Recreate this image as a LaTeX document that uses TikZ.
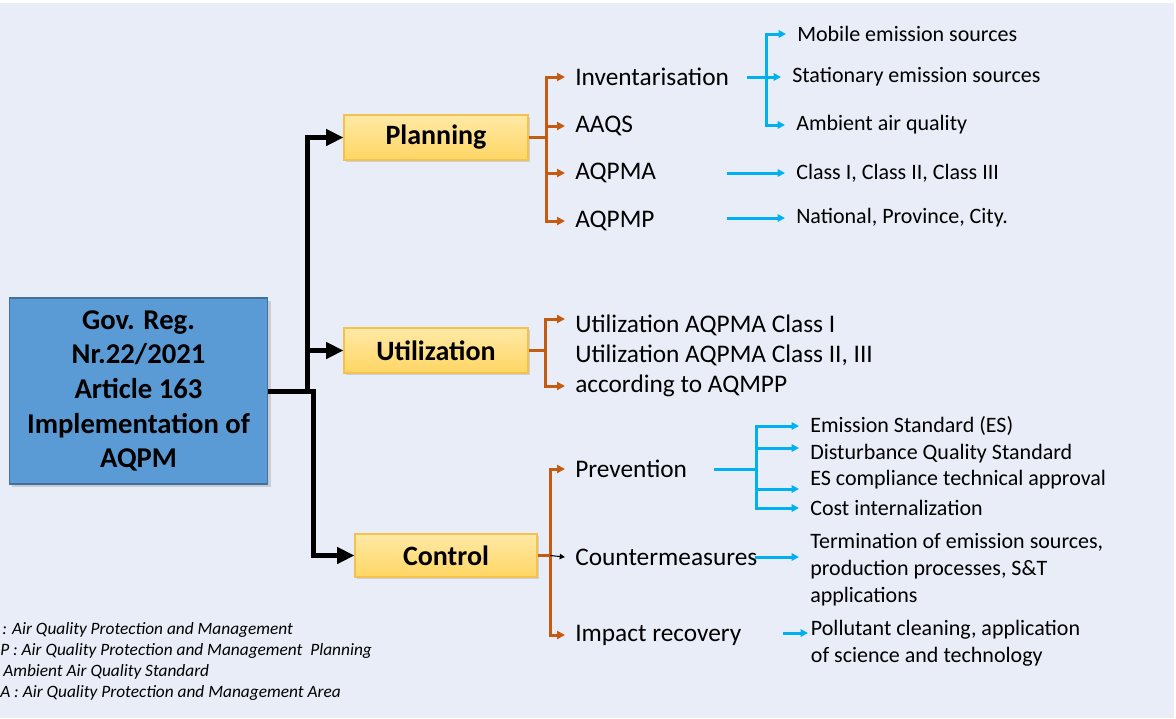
\documentclass[tikz,border=0pt]{standalone}
\usepackage{fontspec}
\setmainfont{Carlito}
\usepackage{xcolor}
\usepackage{tikz}
\usetikzlibrary{positioning, fit, arrows.meta, shadows}

\definecolor{bgblue}{HTML}{E9EDF7}
\definecolor{govblue}{HTML}{5B9BD5}
\definecolor{govedge}{HTML}{41719C}
\definecolor{boxtop}{HTML}{FFE9A6}
\definecolor{boxbot}{HTML}{FFD664}
\definecolor{boxedge}{HTML}{F2C14E}
\definecolor{brorange}{HTML}{C55A11}
\definecolor{brcyan}{HTML}{00B0F0}

\begin{document}
\begin{tikzpicture}[x=0.75pt, y=-0.75pt,
    govbox/.style={draw=govedge, fill=govblue, line width=0.8pt, minimum width=194pt, minimum height=139.5pt, align=center, font=\fontsize{21.5}{26}\selectfont\bfseries, drop shadow={shadow xshift=2pt, shadow yshift=-2pt, opacity=0.3}},
    stage/.style={draw=boxedge, top color=boxtop, bottom color=boxbot, line width=0.8pt, minimum width=138pt, minimum height=33.75pt, font=\fontsize{21}{25}\selectfont\bfseries, drop shadow={shadow xshift=1.5pt, shadow yshift=-1.5pt, opacity=0.25}},
    item/.style={anchor=west, inner xsep=7.5pt, inner ysep=0pt, font=\fontsize{19}{23}\selectfont},
    sub/.style={anchor=west, inner xsep=8.25pt, inner ysep=0pt, align=left, font=\fontsize{16.5}{20.25}\selectfont},
    note/.style={anchor=west, inner sep=0pt, font=\fontsize{13}{15.75}\selectfont\itshape},
    blk/.style={line width=3.75pt, -{Triangle[length=13pt,width=12pt]}},
    org/.style={draw=brorange, line width=2.25pt},
    oarr/.style={org, -{Triangle[length=6pt,width=6pt]}},
    cyn/.style={draw=brcyan, line width=2.25pt},
    carr/.style={cyn, -{Triangle[length=5.5pt,width=5.5pt]}},
    tarr/.style={line width=0.8pt, -{Triangle[length=4pt,width=4pt]}}
    ]

    \useasboundingbox (0,0) rectangle (1176,718);
    \fill[bgblue] (0,3) rectangle (1174,718);

    % main box and the three stages
    \node[govbox] (gov) at (138.5,391) {Gov. Reg.\\Nr.22/2021\\Article 163\\Implementation of\\AQPM};
    \node[stage] (plan) at (436,137.5) {Planning};
    \node[stage] (util) at (436,350.5) {Utilization};
    \node[stage, minimum width=136.5pt, minimum height=32.25pt] (ctrl) at (446,555.5) {Control};

    \coordinate (trunk) at (307,391);
    \coordinate (trunk2) at (313,391);
    \draw[blk] (gov.east) -- (trunk) |- (plan.west);
    \draw[blk] (trunk) |- (util.west);
    \draw[blk] (gov.east) -- (trunk2) |- (ctrl.west);

    % planning
    \foreach \name/\txt/\y in {inv/Inventarisation/77, aaqs/AAQS/126, aqpma/AQPMA/173, aqpmp/AQPMP/221}
        \node[item] (\name) at (565,\y) {\txt};
    \coordinate (pb) at (546,137.5);
    \draw[org] (plan.east) -- (pb);
    \foreach \name in {inv,aaqs,aqpma,aqpmp}
        \draw[oarr] (pb) |- (\name.west);

    \node[sub] (mob) at (786,34) {Mobile emission sources};
    \node[sub] (sta) at (781,77) {Stationary emission sources};
    \node[sub] (amb) at (785,125) {Ambient air quality};
    \node[sub] (cls) at (785,173) {Class I, Class II, Class III};
    \node[sub] (nat) at (785,218) {National, Province, City.};

    \coordinate (invo) at (747,77);
    \coordinate (ib) at (766,77);
    \draw[cyn] (invo) -- (ib);
    \draw[carr] (ib) |- (mob.west);
    \draw[carr] (ib) -- (sta.west);
    \draw[carr] (ib) |- (amb.west);
    \coordinate (aqo) at (727,173);
    \coordinate (apo) at (727,218);
    \draw[carr] (aqo) -- (cls.west);
    \draw[carr] (apo) -- (nat.west);

    % utilization
    \foreach \name/\txt/\y in {ut1/Utilization AQPMA Class I/325, ut2/{Utilization AQPMA Class II, III}/355.5, ut3/according to AQMPP/386}
        \node[item] (\name) at (565,\y) {\txt};
    \coordinate (ub) at (545,350.5);
    \draw[org] (util.east) -- (ub);
    \draw[oarr] (ub) |- ([yshift=4.5pt]ut1.west);
    \draw[oarr] (ub) |- (ut3.west);

    % control
    \node[item] (prev) at (565,469) {Prevention};
    \node[item] (cm) at (565,557) {Countermeasures};
    \node[item] (imp) at (565,635) {Impact recovery};
    \coordinate (cb) at (550,555.5);
    \draw[org] (ctrl.east) -- (cb);
    \draw[oarr] (cb) |- (prev.west);
    \draw[oarr] (cb) |- (imp.west);
    \draw[tarr] (cb) -- (cm.west);

    \foreach \name/\txt/\y in {es1/Emission Standard (ES)/426, es2/Disturbance Quality Standard/454, es3/ES compliance technical approval/480, es4/Cost internalization/508}
        \node[sub] (\name) at (799,\y) {\txt};
    \coordinate (pvo) at (714,469);
    \coordinate (pvb) at (756,469);
    \draw[cyn] (pvo) -- (pvb);
    \draw[carr] (pvb) |- (es1.west);
    \draw[carr] (pvb) |- ([yshift=4.5pt]es2.west);
    \draw[carr] (pvb) |- ([yshift=-6.75pt]es3.west);
    \draw[carr] (pvb) |- (es4.west);

    \node[sub] (term) at (799,570) {Termination of emission sources,\\production processes, S\&T\\applications};
    \node[sub, inner xsep=2pt] (pol) at (808,643.5) {Pollutant cleaning, application\\of science and technology};
    \coordinate (cmo) at (755,557);
    \coordinate (imo) at (783,633);
    \draw[carr] (cmo) -- (cmo -| term.west);
    \draw[carr] (imo) -- (imo -| pol.west);

    % abbreviations
    \foreach \name/\txt/\x/\y in {ab1/{: Air Quality Protection and Management}/2/630, ab2/{P : Air Quality Protection and Management\ \ Planning}/0/651, ab3/{Ambient Air Quality Standard}/3/672, ab4/{A : Air Quality Protection and Management Area}/0/693}
        \node[note] (\name) at (\x,\y) {\txt};
\end{tikzpicture}
\end{document}
